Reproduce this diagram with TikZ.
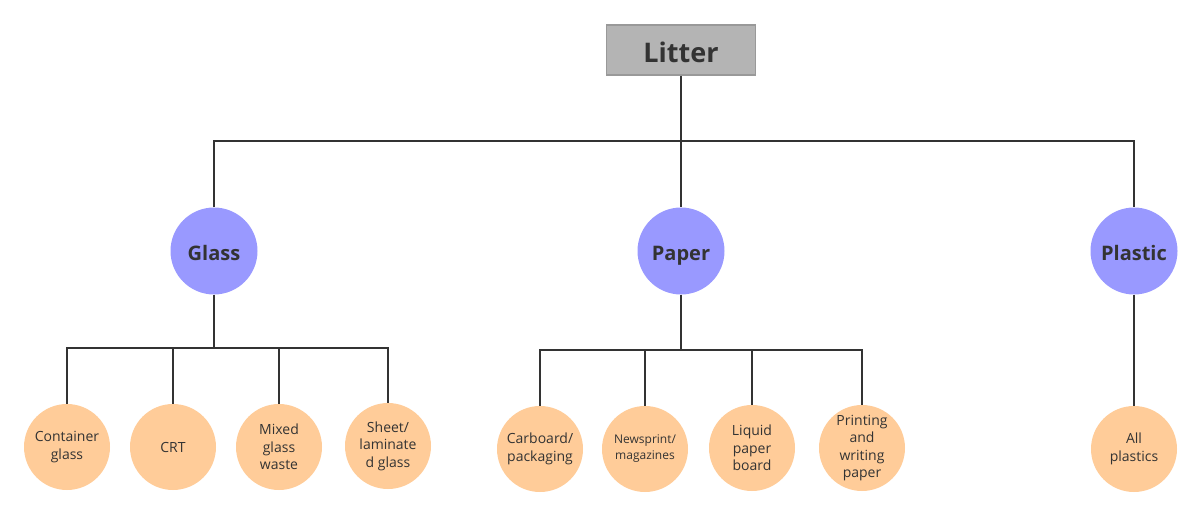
\documentclass[tikz,border=0pt]{standalone}
\usepackage{fontspec}
\setmainfont{Open Sans}
\definecolor{txt}{HTML}{333333}
\definecolor{cat}{HTML}{9999FF}
\definecolor{leafc}{HTML}{FFCC99}
\definecolor{rootf}{HTML}{B4B4B4}
\definecolor{rootd}{HTML}{999999}
\begin{document}
\begin{tikzpicture}[x=1pt,y=-1pt,
  rootbox/.style={draw=rootd,line width=1.5pt,fill=rootf,minimum width=149pt,minimum height=50pt,inner sep=0pt,text height=24pt,text depth=0pt,font=\fontsize{27}{30}\selectfont\bfseries,text=txt},
  catnode/.style={circle,fill=cat,minimum size=87pt,inner sep=0pt,text height=18pt,text depth=0pt,font=\fontsize{20}{24}\selectfont\bfseries,text=txt},
  leaf/.style={circle,fill=leafc,minimum size=86pt,inner sep=0pt,align=center,font=\fontsize{14}{17.5}\selectfont,text=txt},
  conn/.style={draw=txt,line width=1.6pt}]
\useasboundingbox (0,0) rectangle (1202,517);
\node[rootbox] (root) at (681,50) {Litter};
\node[catnode] (glass) at (214,251) {Glass};
\node[catnode] (paper) at (681,251) {Paper};
\node[catnode] (plastic) at (1134,251) {Plastic};
\node[leaf] (g1) at (67,447) {Container\\glass};
\node[leaf] (g2) at (173,447) {CRT};
\node[leaf] (g3) at (279,447) {Mixed\\glass\\waste};
\node[leaf] (g4) at (388,446) {Sheet/\\laminate\\d glass};
\node[leaf] (p1) at (540,449) {Carboard/\\packaging};
\node[leaf,font=\fontsize{12}{16}\selectfont] (p2) at (645,449) {Newsprint/\\magazines};
\node[leaf] (p3) at (752,448) {Liquid\\paper\\board};
\node[leaf] (p4) at (862,448) {Printing\\and\\writing\\paper};
\node[leaf] (l1) at (1134,449) {All\\plastics};
% connectors
\draw[conn] (root.south) -- (681,141) coordinate (rj);
\draw[conn] (glass.north) |- (rj) -| (plastic.north);
\draw[conn] (rj) -- (paper.north);
\draw[conn] (glass.south) -- (214,348) coordinate (gj);
\draw[conn] (g1.north) |- (gj) -| (g4.north);
\draw[conn] (g2.north) -- (g2.north |- gj);
\draw[conn] (g3.north) -- (g3.north |- gj);
\draw[conn] (paper.south) -- (681,350) coordinate (pj);
\draw[conn] (p1.north) |- (pj) -| (p4.north);
\draw[conn] (p2.north) -- (p2.north |- pj);
\draw[conn] (p3.north) -- (p3.north |- pj);
\draw[conn] (plastic.south) -- (l1.north);
\end{tikzpicture}
\end{document}
